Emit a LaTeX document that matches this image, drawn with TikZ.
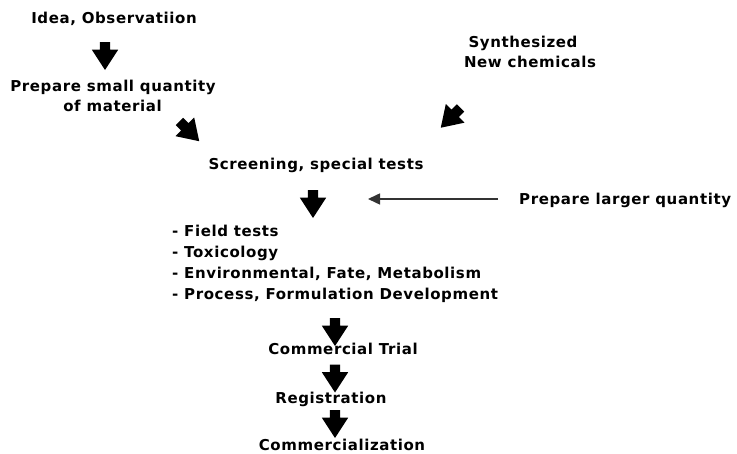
\documentclass[tikz,border=0pt]{standalone}
\usepackage{fontspec}
\setmainfont{DejaVu Sans}[LetterSpace=4]
\usetikzlibrary{shapes.arrows,arrows.meta}
\begin{document}
\begin{tikzpicture}[x=1pt,y=-1pt,
  lbl/.style={font=\fontsize{15}{20}\selectfont\bfseries, inner sep=0pt, anchor=base},
  item/.style={lbl, anchor=base west},
  blockarrow/.style={single arrow, fill=black, draw=none,
    inner xsep=0pt, inner ysep=5pt,
    minimum height=28pt, minimum width=26pt,
    single arrow head extend=8pt, single arrow tip angle=66,
    rotate=#1},
  thinarrow/.style={line width=1.5pt, draw=black!80,
    -{Triangle[length=12pt,width=11pt]}}]
\useasboundingbox (0,0) rectangle (737,454);

% upper left branch
\node[lbl] (idea)  at (114,24)  {Idea, Observatiion};
\node[blockarrow=-90] (a1) at (105,52) {};
\node[lbl] (prep1) at (113,92)  {Prepare small quantity};
\node[lbl] (prep2) at (112.5,112) {of material};
\node[blockarrow=-45] (d1) at (186.5,128.5) {};

% upper right branch
\node[lbl] (synth1) at (523,48) {Synthesized};
\node[lbl] (synth2) at (530,68) {New chemicals};
\node[blockarrow=225] (d2) at (453.5,115) {};

% screening
\node[lbl] (screen) at (316,170) {Screening, special tests};
\node[blockarrow=-90] (a2) at (313,200) {};

% side input
\node[item] (larger) at (519,204.5) {Prepare larger quantity};
\coordinate (tipL) at (368,199);
\draw[thinarrow, shorten <=21pt] (larger.west |- tipL) -- (tipL);

% development activities
\node[item] (l1) at (172,237) {- Field tests};
\node[item] (l2) at (172,258) {- Toxicology};
\node[item] (l3) at (172,279) {- Environmental, Fate, Metabolism};
\node[item] (l4) at (172,300) {- Process, Formulation Development};

% final stages
\node[blockarrow=-90] (a3) at (335,328) {};
\node[lbl] (trial) at (343,355) {Commercial Trial};
\node[blockarrow=-90] (a4) at (335,374.5) {};
\node[lbl] (reg) at (331,404) {Registration};
\node[blockarrow=-90] (a5) at (335,420) {};
\node[lbl] (comm) at (342,450) {Commercialization};
\end{tikzpicture}
\end{document}
